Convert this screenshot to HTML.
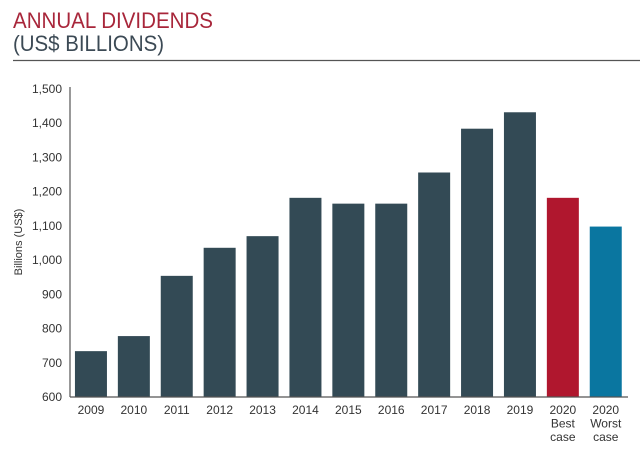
<!DOCTYPE html>
<html><head><meta charset="utf-8"><style>
body{margin:0;background:#fff;width:640px;height:459px;overflow:hidden;font-family:"Liberation Sans",sans-serif}
svg{display:block}
</style></head><body>
<svg width="640" height="459">
<text x="13" y="28" font-size="22" fill="#a8263a" textLength="200" lengthAdjust="spacingAndGlyphs">ANNUAL DIVIDENDS</text>
<text x="13" y="51" font-size="22" fill="#3c4a55" textLength="151" lengthAdjust="spacingAndGlyphs">(US$ BILLIONS)</text>
<line x1="13" y1="60.5" x2="640" y2="60.5" stroke="#555" stroke-width="1.2"/>
<text transform="translate(22,242) rotate(-90)" text-anchor="middle" font-size="11" fill="#333">Billions (US$)</text>
<g id="g"></g>
</svg>
<script>
const categories=["2009","2010","2011","2012","2013","2014","2015","2016","2017","2018","2019","2020|Best|case","2020|Worst|case"];
const values=[734,778,954,1036,1070,1182,1165,1165,1256,1384,1432,1182,1098];
const colors=["#334a55","#334a55","#334a55","#334a55","#334a55","#334a55","#334a55","#334a55","#334a55","#334a55","#334a55","#b0172e","#0a76a0"];
const yTicks=[600,700,800,900,1000,1100,1200,1300,1400,1500];
const tickLabels=["600","700","800","900","1,000","1,100","1,200","1,300","1,400","1,500"];
const NS="http://www.w3.org/2000/svg";
const g=document.getElementById('g');
const y0=397,y1=89,vmin=600,vmax=1500;
const y=v=>y0-(v-vmin)/(vmax-vmin)*(y0-y1);
const band=42.9,x0=69.5;
const xc=i=>x0+band*(i+0.5);
function mk(t,a){const e=document.createElementNS(NS,t);for(const k in a)e.setAttribute(k,a[k]);g.appendChild(e);return e;}
values.forEach((v,i)=>{
 const r=mk('rect',{x:xc(i)-16,y:y(v),width:32,height:y0-y(v),fill:colors[i]});
 
 
 categories[i].split('|').forEach((s,j)=>{
  const t=mk('text',{x:xc(i),y:414+j*13.5,'text-anchor':'middle','font-size':12,fill:'#333'});
  t.textContent=s;
  
  
 });
});
yTicks.forEach((v,i)=>{
 const t=mk('text',{x:62,y:y(v)+4,'text-anchor':'end','font-size':12,fill:'#333'});
 t.textContent=tickLabels[i];
 
 
});
const ya=mk('line',{x1:70,y1:y1-2,x2:70,y2:y0,stroke:'#555','stroke-width':1.2});


const xa=mk('line',{x1:70,y1:y0,x2:628,y2:y0,stroke:'#555','stroke-width':1.2});


</script>
</body></html>
